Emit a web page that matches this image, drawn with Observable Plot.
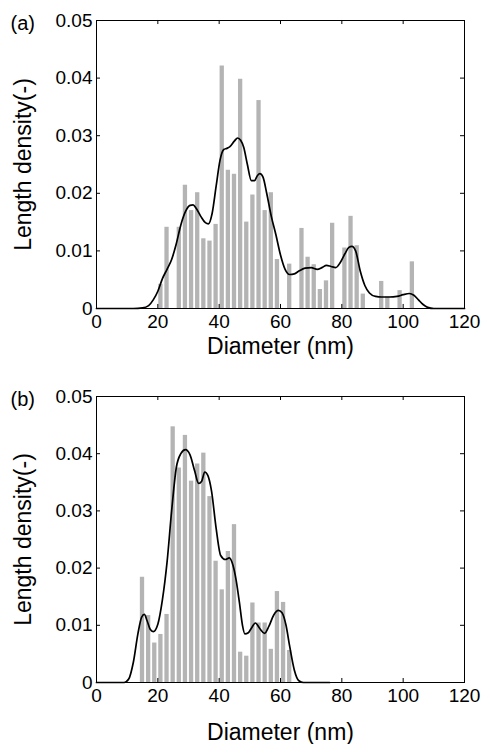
<!DOCTYPE html>
<html><head><meta charset="utf-8">
<script src="https://cdn.jsdelivr.net/npm/d3@7"></script>
<script src="https://cdn.jsdelivr.net/npm/@observablehq/plot@0.6"></script>
<style>
body{margin:0;background:#fff;overflow:hidden}
#chart svg{display:block}
</style></head><body><div id="chart"></div>
<script>
const xTicks = [0, 20, 40, 60, 80, 100, 120];
const yTicks = [0, 0.01, 0.02, 0.03, 0.04, 0.05];
const xLabel = "Diameter (nm)";
const yLabel = "Length density(-)";
const panelTags = ["(a)", "(b)"];

// Panel (a) histogram: bin centres (nm) and heights
const binsA = [21,23,27,29,31,33,35,37,39,41,43,45,47,49,51,53,55,57,59,63,67,69,71,73,75,77,81,83,85,87,93,95,99,103];
const barsA = [0.0042,0.0141,0.0141,0.0214,0.0170,0.0201,0.0121,0.0117,0.0146,0.0421,0.0240,0.0233,0.0398,0.0150,0.0197,0.0361,0.0170,0.0201,0.0085,0.0077,0.0139,0.0089,0.0076,0.0033,0.0048,0.0148,0.0105,0.0160,0.0109,0.0025,0.0047,0.0020,0.0031,0.0081];
// Panel (a) smooth curve
const curveAx = [0,12,15,17,18.5,20,21.5,23,24.5,26,27.5,29,30.5,31.5,32.5,34,35.5,36.5,37.7,39,40.3,41.5,42.5,43.5,45,46,47,48,49.2,50.5,51.5,52.5,53.3,54.3,55.5,57,58.5,60,61.5,63,64.5,66,68,70,72,73.5,75,76.5,78,79.5,81,82.3,83.3,84.5,86,87.5,89,91,93,95.5,98,100,102,103.5,105,106.5,108,110,120];
const curveAy = [0,0,0.0001,0.0005,0.0015,0.003,0.0052,0.0068,0.0085,0.0112,0.0145,0.0168,0.0179,0.0180,0.0174,0.0160,0.0149,0.0147,0.0165,0.0212,0.0258,0.0276,0.0278,0.0281,0.0291,0.0296,0.0292,0.0280,0.0250,0.0222,0.0222,0.0231,0.0234,0.0228,0.0200,0.0160,0.0128,0.0093,0.0068,0.0059,0.0060,0.0065,0.0070,0.0071,0.0068,0.0071,0.0075,0.0073,0.0071,0.0080,0.0095,0.0106,0.0108,0.0100,0.0065,0.0040,0.0027,0.0021,0.0020,0.0020,0.0021,0.0024,0.0026,0.0023,0.0015,0.0007,0.0002,0,0];

// Panel (b) histogram
const binsB = [15,17,19,21,23,25,27,29,31,33,35,37,39,41,43,45,47,49,51,53,55,57,59,61,63];
const barsB = [0.0184,0.0117,0.0069,0.0084,0.0119,0.0447,0.0375,0.0432,0.0352,0.0382,0.0401,0.0325,0.0212,0.0162,0.0229,0.0276,0.0053,0.0046,0.0139,0.0104,0.0104,0.0058,0.0159,0.0140,0.0056];
// Panel (b) smooth curve
const curveBx = [0,9,10.5,12,13.5,14.7,15.6,16.5,17.5,18.5,20,21.5,23,24.5,26,27.5,29,30.5,32,33.3,34.3,35.3,36.3,37.5,39,40.5,42,43.3,44.5,45.5,46.6,47.6,48.4,49.5,50.5,51.8,53.3,54.8,56.2,57.8,59.3,60.5,61.8,63,64.5,66,67.5,76];
const curveBy = [0,0,0.0006,0.0035,0.0085,0.0114,0.0119,0.0108,0.0093,0.0089,0.0102,0.0145,0.0210,0.0300,0.0375,0.0400,0.0407,0.0398,0.0370,0.0348,0.0352,0.0368,0.0362,0.0335,0.0270,0.0222,0.0215,0.0218,0.0205,0.0180,0.0140,0.0100,0.0085,0.0087,0.0095,0.0104,0.0094,0.0086,0.0098,0.0118,0.0126,0.0122,0.0100,0.0063,0.0022,0.0003,0,0];

const FONT = "Liberation Sans, Arial, Helvetica, sans-serif";

function panel({bins, bars, cx, cy, tag, height, marginTop, marginBottom, xTitleDy}) {
  const rects = bins.map((c, i) => ({c, v: bars[i]}));
  const pts = cx.map((x, i) => ({x, y: cy[i]}));
  const tx = 1.3, ty = 0.0007;
  return Plot.plot({
    width: 483, height, marginLeft: 96, marginRight: 19, marginTop, marginBottom,
    style: {fontFamily: FONT, fontSize: "19px", color: "black", background: "white", overflow: "visible"},
    x: {domain: [0, 120]},
    y: {domain: [0, 0.05]},
    marks: [
      Plot.rect(rects, {x1: d => d.c - 0.7, x2: d => d.c + 0.7, y1: 0, y2: "v", fill: "#b4b4b4"}),
      Plot.line(pts, {x: "x", y: "y", curve: "monotone-x", stroke: "black", strokeWidth: 1.7}),
      Plot.ruleX(xTicks, {x: d => d, y1: 0, y2: ty, stroke: "black"}),
      Plot.ruleX(xTicks, {x: d => d, y1: 0.05, y2: 0.05 - ty, stroke: "black"}),
      Plot.ruleY(yTicks, {y: d => d, x1: 0, x2: tx, stroke: "black"}),
      Plot.ruleY(yTicks, {y: d => d, x1: 120, x2: 120 - tx, stroke: "black"}),
      Plot.frame({stroke: "black", strokeWidth: 1}),
      Plot.axisX({ticks: xTicks, tickSize: 0, tickPadding: 6, label: null, tickFormat: d => String(d)}),
      Plot.axisY({ticks: yTicks, tickSize: 0, tickPadding: 4, label: null, tickFormat: d => d === 0 ? "0" : d.toFixed(2)}),
      Plot.text([xLabel], {text: d => d, frameAnchor: "bottom", dy: xTitleDy, lineAnchor: "bottom", textAnchor: "middle", fontSize: 23}),
      Plot.text([yLabel], {text: d => d, frameAnchor: "left", dx: -73, rotate: -90, textAnchor: "middle", lineAnchor: "middle", fontSize: 23}),
      Plot.text([tag], {text: d => d, frameAnchor: "top-left", dx: -86, dy: 3, textAnchor: "start", lineAnchor: "middle", fontSize: 20})
    ]
  });
}

const el = document.getElementById("chart");
el.append(panel({bins: binsA, bars: barsA, cx: curveAx, cy: curveAy, tag: panelTags[0], height: 372, marginTop: 20, marginBottom: 64, xTitleDy: 45}));
el.append(panel({bins: binsB, bars: barsB, cx: curveBx, cy: curveBy, tag: panelTags[1], height: 372, marginTop: 24, marginBottom: 62, xTitleDy: 57}));
</script>
</body></html>
